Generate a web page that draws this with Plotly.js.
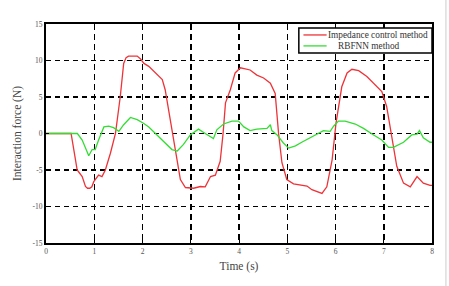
<!DOCTYPE html>
<html>
<head>
<meta charset="utf-8">
<script src="https://cdn.plot.ly/plotly-3.0.1.min.js"></script>
<style>
  html, body { margin: 0; padding: 0; background: #ffffff; }
  #chart { width: 449px; height: 286px; }
</style>
</head>
<body>
<div id="chart"></div>
<script>
// Interaction force over time for two controllers
const seriesNames = ['Impedance control method', 'RBFNN method'];

const timeImpedance = [0, 0.52, 0.576, 0.646, 0.75, 0.818, 0.86, 0.907, 0.95, 0.99, 1.09, 1.16, 1.23, 1.335, 1.44, 1.54, 1.61, 1.66, 1.71, 1.8, 1.89, 1.96, 2.03, 2.13, 2.27, 2.41, 2.47, 2.58, 2.68, 2.785, 2.89, 3.06, 3.2, 3.3, 3.41, 3.51, 3.61, 3.67, 3.72, 3.82, 3.92, 4.03, 4.23, 4.37, 4.51, 4.65, 4.75, 4.82, 4.89, 4.99, 5.13, 5.41, 5.51, 5.72, 5.82, 5.93, 6.01, 6.13, 6.24, 6.34, 6.48, 6.65, 6.79, 6.96, 7.06, 7.17, 7.27, 7.41, 7.55, 7.69, 7.82, 7.96, 8.0];
const forceImpedance = [0, 0, -2.2, -5.0, -5.9, -7.26, -7.5, -7.5, -7.3, -6.6, -5.7, -5.9, -5.0, -2.7, 0, 5.1, 9.6, 10.4, 10.6, 10.6, 10.6, 10.2, 9.6, 9.2, 8.3, 7.4, 6.0, 1.4, -2.2, -6.3, -7.4, -7.5, -7.26, -7.3, -5.9, -5.7, -3.8, 0, 4.2, 6.0, 8.3, 9.0, 8.7, 8.0, 7.6, 6.9, 5.5, 0, -4.0, -6.3, -6.9, -7.2, -7.7, -8.2, -7.3, -3.6, 1.4, 6.4, 8.3, 8.8, 8.6, 7.8, 6.9, 5.75, 3.7, -0.4, -4.5, -6.8, -7.3, -5.9, -6.8, -7.1, -7.1];

const timeRbfnn = [0, 0.65, 0.75, 0.82, 0.886, 0.956, 1.02, 1.09, 1.2, 1.3, 1.4, 1.51, 1.61, 1.75, 1.89, 2.02, 2.13, 2.3, 2.47, 2.61, 2.72, 2.85, 2.99, 3.16, 3.3, 3.47, 3.54, 3.68, 3.855, 3.99, 4.1, 4.23, 4.37, 4.58, 4.65, 4.68, 4.79, 4.92, 5.03, 5.17, 5.3, 5.48, 5.61, 5.75, 5.89, 5.96, 6.06, 6.2, 6.41, 6.58, 6.79, 6.96, 7.1, 7.2, 7.41, 7.58, 7.69, 7.74, 7.82, 7.96, 8.0];
const forceRbfnn = [0, 0, -0.9, -2.0, -3.05, -2.2, -2.2, -0.9, 0.9, 1.0, 0.8, 0.3, 1.2, 2.2, 1.9, 1.4, 0.9, -0.2, -1.3, -2.2, -2.4, -1.5, -0.2, 0.6, 0, -0.7, 0.5, 1.3, 1.7, 1.7, 0.9, 0.4, 0.6, 0.7, 1.2, 0.4, -0.2, -1.3, -2.0, -1.7, -1.2, -0.6, -0.1, 0.4, 0.3, 1.0, 1.7, 1.7, 1.3, 0.7, -0.2, -0.9, -1.9, -1.9, -1.2, -0.2, -0.1, 0.4, -0.6, -1.2, -1.2];

const xTicks = [0, 1, 2, 3, 4, 5, 6, 7, 8];
const yTicks = [-15, -10, -5, 0, 5, 10, 15];

const colors = ['#ee3338', '#33dd33'];
const serif = '"Liberation Serif", "Times New Roman", serif';

const traces = [
  { x: timeImpedance, y: forceImpedance, name: seriesNames[0], type: 'scatter', mode: 'lines',
    line: { color: colors[0], width: 1.3 }, showlegend: false },
  { x: timeRbfnn, y: forceRbfnn, name: seriesNames[1], type: 'scatter', mode: 'lines',
    line: { color: colors[1], width: 1.3 }, showlegend: false }
];

// Boxed key in the upper right corner, built in paper coordinates
const keyLeft = 0.655, keyRight = 1.0, keyTop = 0.982, keyBottom = 0.868;
const rowY = [0.950, 0.900];

const layout = {
  width: 449, height: 286,
  margin: { l: 46, r: 17, t: 24, b: 43 },
  paper_bgcolor: '#ffffff', plot_bgcolor: '#ffffff',
  font: { family: serif, color: '#333' },
  xaxis: {
    range: [0, 8], tickvals: xTicks, ticktext: xTicks.map(String),
    showgrid: true, gridcolor: '#000', gridwidth: 1.5, griddash: '6px,4px',
    zeroline: false, showline: true, linecolor: '#000', linewidth: 2, mirror: true,
    ticks: 'inside', ticklen: 3, tickwidth: 1, tickcolor: '#000',
    tickfont: { family: serif, size: 7.5, color: '#555' },
    title: { text: 'Time (s)', font: { family: serif, size: 11.5, color: '#444' }, standoff: 7 }
  },
  yaxis: {
    range: [-15, 15], tickvals: yTicks, ticktext: yTicks.map(String),
    showgrid: true, gridcolor: '#000', gridwidth: 1.5, griddash: '5px,4px',
    zeroline: false, showline: true, linecolor: '#000', linewidth: 2, mirror: true,
    ticks: 'inside', ticklen: 3, tickwidth: 1, tickcolor: '#000',
    tickfont: { family: serif, size: 7.5, color: '#555' },
    title: { text: 'Interaction force (N)', font: { family: serif, size: 11.5, color: '#444' }, standoff: 8 }
  },
  shapes: [
    { type: 'rect', xref: 'paper', yref: 'paper', x0: keyLeft, x1: keyRight, y0: keyBottom, y1: keyTop,
      fillcolor: '#ffffff', line: { color: '#000', width: 1.5 }, layer: 'above' },
    { type: 'line', xref: 'paper', yref: 'paper', x0: 0.667, x1: 0.727, y0: rowY[0], y1: rowY[0],
      line: { color: colors[0], width: 1.3 }, layer: 'above' },
    { type: 'line', xref: 'paper', yref: 'paper', x0: 0.667, x1: 0.727, y0: rowY[1], y1: rowY[1],
      line: { color: colors[1], width: 1.3 }, layer: 'above' },
    // light frame edge on the right side of the canvas
    { type: 'line', xref: 'paper', yref: 'paper', x0: 1.036, x1: 1.036, y0: -0.3, y1: 1.2,
      line: { color: '#dddddd', width: 1.5 } }
  ],
  annotations: [
    { xref: 'paper', yref: 'paper', x: 0.726, y: rowY[0], xanchor: 'left', yanchor: 'middle',
      text: seriesNames[0], showarrow: false, font: { family: serif, size: 9.3, color: '#333' } },
    { xref: 'paper', yref: 'paper', x: 0.838, y: rowY[1], xanchor: 'center', yanchor: 'middle',
      text: seriesNames[1], showarrow: false, font: { family: serif, size: 9.3, color: '#333' } }
  ]
};

Plotly.newPlot('chart', traces, layout, { displayModeBar: false, staticPlot: true });
</script>
</body>
</html>
